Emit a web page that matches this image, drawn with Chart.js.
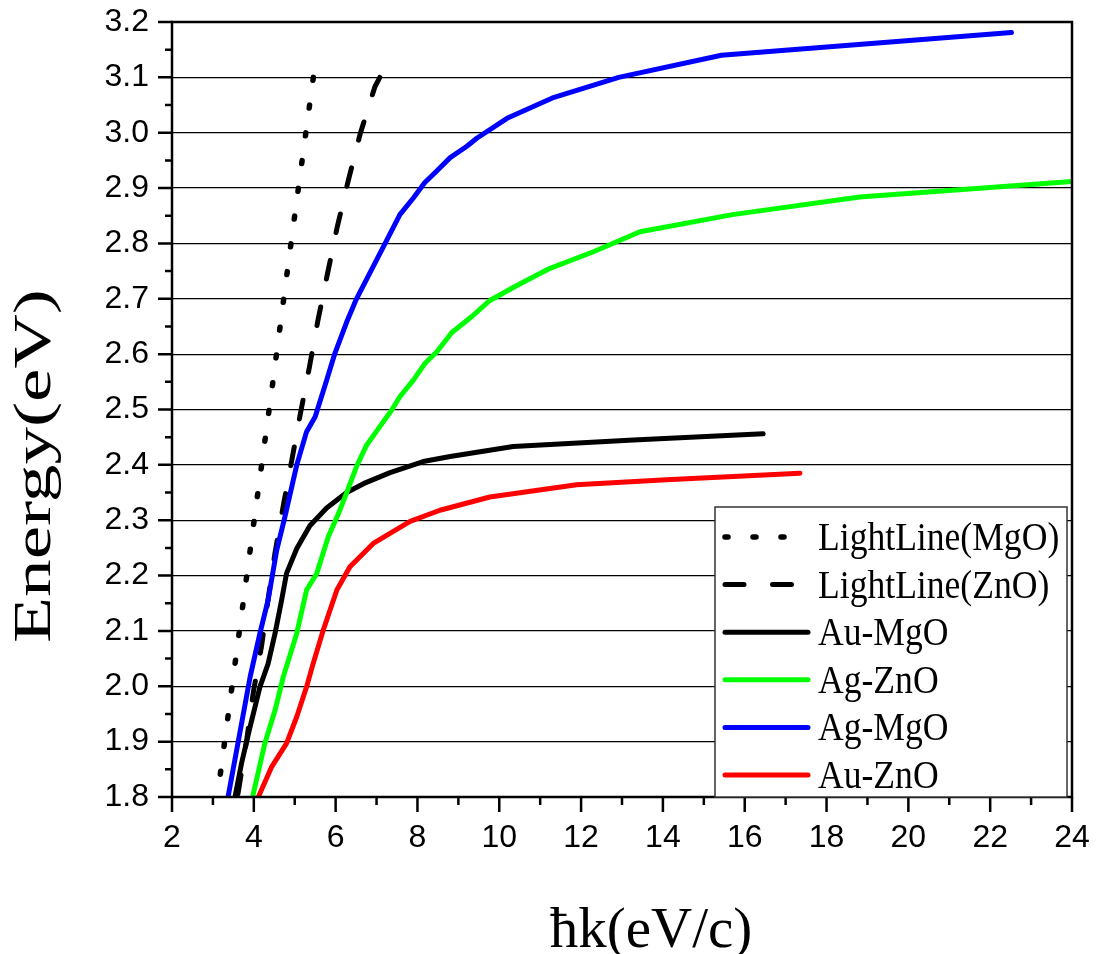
<!DOCTYPE html>
<html>
<head>
<meta charset="utf-8">
<title>Energy vs ħk</title>
<script src="https://cdn.jsdelivr.net/npm/chart.js@4.4.0/dist/chart.umd.min.js"></script>
<style>
  body { margin: 0; background: #fff; }
  canvas { display: block; }
</style>
</head>
<body>
<canvas id="disp" width="1102" height="954"></canvas>
<script>
// axis ranges
const kMin = 2, kMax = 24
const eMin = 1.8, eMax = 3.2

// light lines, listed from the top end down so the dash pattern starts at 3.1 eV
const lightMgoK = [5.455, 5.29, 4.89, 4.45, 3.99, 3.5, 3.17, 3.11]
const lightMgoE = [3.10, 3.01, 2.79, 2.541, 2.29, 2.018, 1.835, 1.80]

const lightZnoK = [7.08, 6.96, 6.60, 6.31, 6.04, 5.80, 5.57, 5.36, 5.14, 4.93, 4.72, 4.52, 4.35, 4.19, 3.99, 3.83, 3.60]
const lightZnoE = [3.10, 3.083, 2.998, 2.914, 2.830, 2.745, 2.662, 2.577, 2.493, 2.409, 2.326, 2.242, 2.158, 2.073, 1.990, 1.905, 1.80]

// surface plasmon branches
const auMgoK = [3.54, 3.70, 3.91, 4.15, 4.35, 4.52, 4.68, 4.80, 5.05, 5.37, 5.78, 6.27, 6.68, 7.33, 8.14, 8.80, 10.34, 13.28, 16.45]
const auMgoE = [1.80, 1.861, 1.927, 1.999, 2.041, 2.096, 2.156, 2.204, 2.249, 2.29, 2.322, 2.35, 2.366, 2.386, 2.406, 2.415, 2.433, 2.445, 2.456]

const agZnoK = [3.97, 4.27, 4.52, 4.72, 5.05, 5.29, 5.54, 5.82, 6.07, 6.27, 6.51, 6.76, 7.08, 7.37, 7.57, 7.90, 8.18, 8.47, 8.84, 9.33, 9.77, 10.43, 11.24, 12.30, 13.44, 15.70, 18.81, 24.0]
const agZnoE = [1.80, 1.897, 1.957, 2.017, 2.096, 2.174, 2.204, 2.27, 2.312, 2.35, 2.397, 2.436, 2.469, 2.499, 2.523, 2.553, 2.583, 2.604, 2.639, 2.668, 2.697, 2.724, 2.755, 2.785, 2.821, 2.852, 2.884, 2.912]

const agMgoK = [3.37, 3.91, 4.15, 4.35, 4.56, 4.76, 5.05, 5.29, 5.50, 5.78, 5.98, 6.27, 6.51, 7.21, 7.57, 7.90, 8.18, 8.39, 8.80, 9.20, 9.45, 10.19, 11.34, 12.92, 15.43, 22.52]
const agMgoE = [1.80, 2.017, 2.096, 2.156, 2.246, 2.306, 2.40, 2.46, 2.487, 2.553, 2.601, 2.658, 2.70, 2.80, 2.852, 2.882, 2.91, 2.925, 2.955, 2.975, 2.99, 3.026, 3.064, 3.10, 3.14, 3.181]

const auZnoK = [4.11, 4.44, 4.80, 5.05, 5.29, 5.45, 5.70, 6.03, 6.35, 6.92, 7.82, 8.55, 9.77, 11.89, 14.09, 17.35]
const auZnoE = [1.80, 1.855, 1.897, 1.945, 1.999, 2.041, 2.102, 2.174, 2.216, 2.258, 2.298, 2.318, 2.342, 2.364, 2.373, 2.385]

const seriesNames = ['LightLine(MgO)', 'LightLine(ZnO)', 'Au-MgO', 'Ag-ZnO', 'Ag-MgO', 'Au-ZnO']
const seriesK = [lightMgoK, lightZnoK, auMgoK, agZnoK, agMgoK, auZnoK]
const seriesE = [lightMgoE, lightZnoE, auMgoE, agZnoE, agMgoE, auZnoE]
const seriesColors = ['#000000', '#000000', '#000000', '#00ff00', '#0000ff', '#ff0000']
const seriesDash = [[3, 25], [19, 28.5], [], [], [], []]

const datasets = seriesNames.map((name, i) => ({
  label: name,
  data: seriesK[i].map((k, j) => ({x: k, y: seriesE[i][j]})),
  borderColor: seriesColors[i],
  borderWidth: i === 0 ? 5.5 : 5,
  borderDash: seriesDash[i],
  borderCapStyle: 'round',
  borderJoinStyle: 'round',
  pointRadius: 0,
  tension: 0,
  fill: false,
  order: seriesNames.length - i
}))

// frame, outside ticks, boxed legend and axis titles
const decorations = {
  id: 'decorations',
  afterDraw(chart) {
    const ctx = chart.ctx
    const a = chart.chartArea
    const xs = chart.scales.x, ys = chart.scales.y
    ctx.save()
    ctx.strokeStyle = '#000'
    ctx.lineWidth = 2.5
    ctx.strokeRect(a.left, a.top, a.right - a.left, a.bottom - a.top)

    ctx.beginPath()
    for (let i = 0; i <= Math.round((eMax - eMin) / 0.05); i++) {
      const py = ys.getPixelForValue(eMin + i * 0.05)
      const len = i % 2 ? 7 : 14
      ctx.moveTo(a.left - len, py)
      ctx.lineTo(a.left, py)
    }
    for (let v = kMin; v <= kMax; v++) {
      const px = xs.getPixelForValue(v)
      const len = v % 2 ? 8 : 15
      ctx.moveTo(px, a.bottom)
      ctx.lineTo(px, a.bottom + len)
    }
    ctx.stroke()

    // legend box inside the plot, lower right
    const bw = 352, bh = 290
    const bx = a.right - 5 - bw, by = a.bottom - bh
    ctx.fillStyle = '#fff'
    ctx.fillRect(bx, by, bw, bh)
    ctx.lineWidth = 1.5
    ctx.strokeStyle = '#333'
    ctx.strokeRect(bx, by, bw, bh)
    chart.data.datasets.forEach((ds, i) => {
      const ry = by + 30 + i * 47.6
      ctx.save()
      ctx.strokeStyle = ds.borderColor
      ctx.lineWidth = ds.borderWidth
      ctx.lineCap = 'round'
      ctx.setLineDash(ds.borderDash)
      ctx.beginPath()
      ctx.moveTo(bx + 10, ry)
      ctx.lineTo(bx + 93, ry)
      ctx.stroke()
      ctx.setLineDash([])
      ctx.translate(bx + 103, ry + 13)
      ctx.scale(0.89, 1)
      ctx.fillStyle = '#000'
      ctx.font = '40px "Liberation Serif", "Times New Roman", serif'
      ctx.textAlign = 'left'
      ctx.textBaseline = 'alphabetic'
      ctx.fillText(ds.label, 0, 0)
      ctx.restore()
    })

    // axis titles
    ctx.fillStyle = '#000'
    ctx.textAlign = 'center'
    ctx.textBaseline = 'alphabetic'
    ctx.font = '57px "Liberation Serif", "Times New Roman", serif'
    ctx.fillText('ħk(eV/c)', 651, 947)

    ctx.save()
    ctx.translate(50, 466)
    ctx.rotate(-Math.PI / 2)
    ctx.scale(1.42, 1)
    ctx.font = '53px "Liberation Serif", "Times New Roman", serif'
    ctx.fillText('Energy(eV)', 0, 0)
    ctx.restore()

    ctx.restore()
  }
}

const tickFont = {family: '"Liberation Sans", Arial, sans-serif', size: 32}

new Chart(document.getElementById('disp'), {
  type: 'line',
  data: {datasets: datasets},
  options: {
    responsive: false,
    animation: false,
    layout: {padding: {top: 22, right: 30, bottom: 0, left: 0}},
    plugins: {legend: {display: false}, tooltip: {enabled: false}},
    scales: {
      x: {
        type: 'linear',
        min: kMin,
        max: kMax,
        afterFit: (scale) => {
          scale.height = 157
          scale.paddingLeft = 0
          scale.paddingRight = 0
        },
        border: {display: false},
        grid: {drawOnChartArea: false, drawTicks: false},
        ticks: {stepSize: 2, autoSkip: false, maxRotation: 0, padding: 22, color: '#000', font: tickFont}
      },
      y: {
        type: 'linear',
        min: eMin,
        max: eMax,
        afterFit: (scale) => {
          scale.width = 172
          scale.paddingTop = 0
          scale.paddingBottom = 0
        },
        border: {display: false},
        grid: {color: '#000', lineWidth: 1.2, drawTicks: false},
        ticks: {stepSize: 0.1, autoSkip: false, padding: 23, color: '#000', font: tickFont,
          callback: (v) => v.toFixed(1)}
      }
    }
  },
  plugins: [decorations]
})
</script>
</body>
</html>
